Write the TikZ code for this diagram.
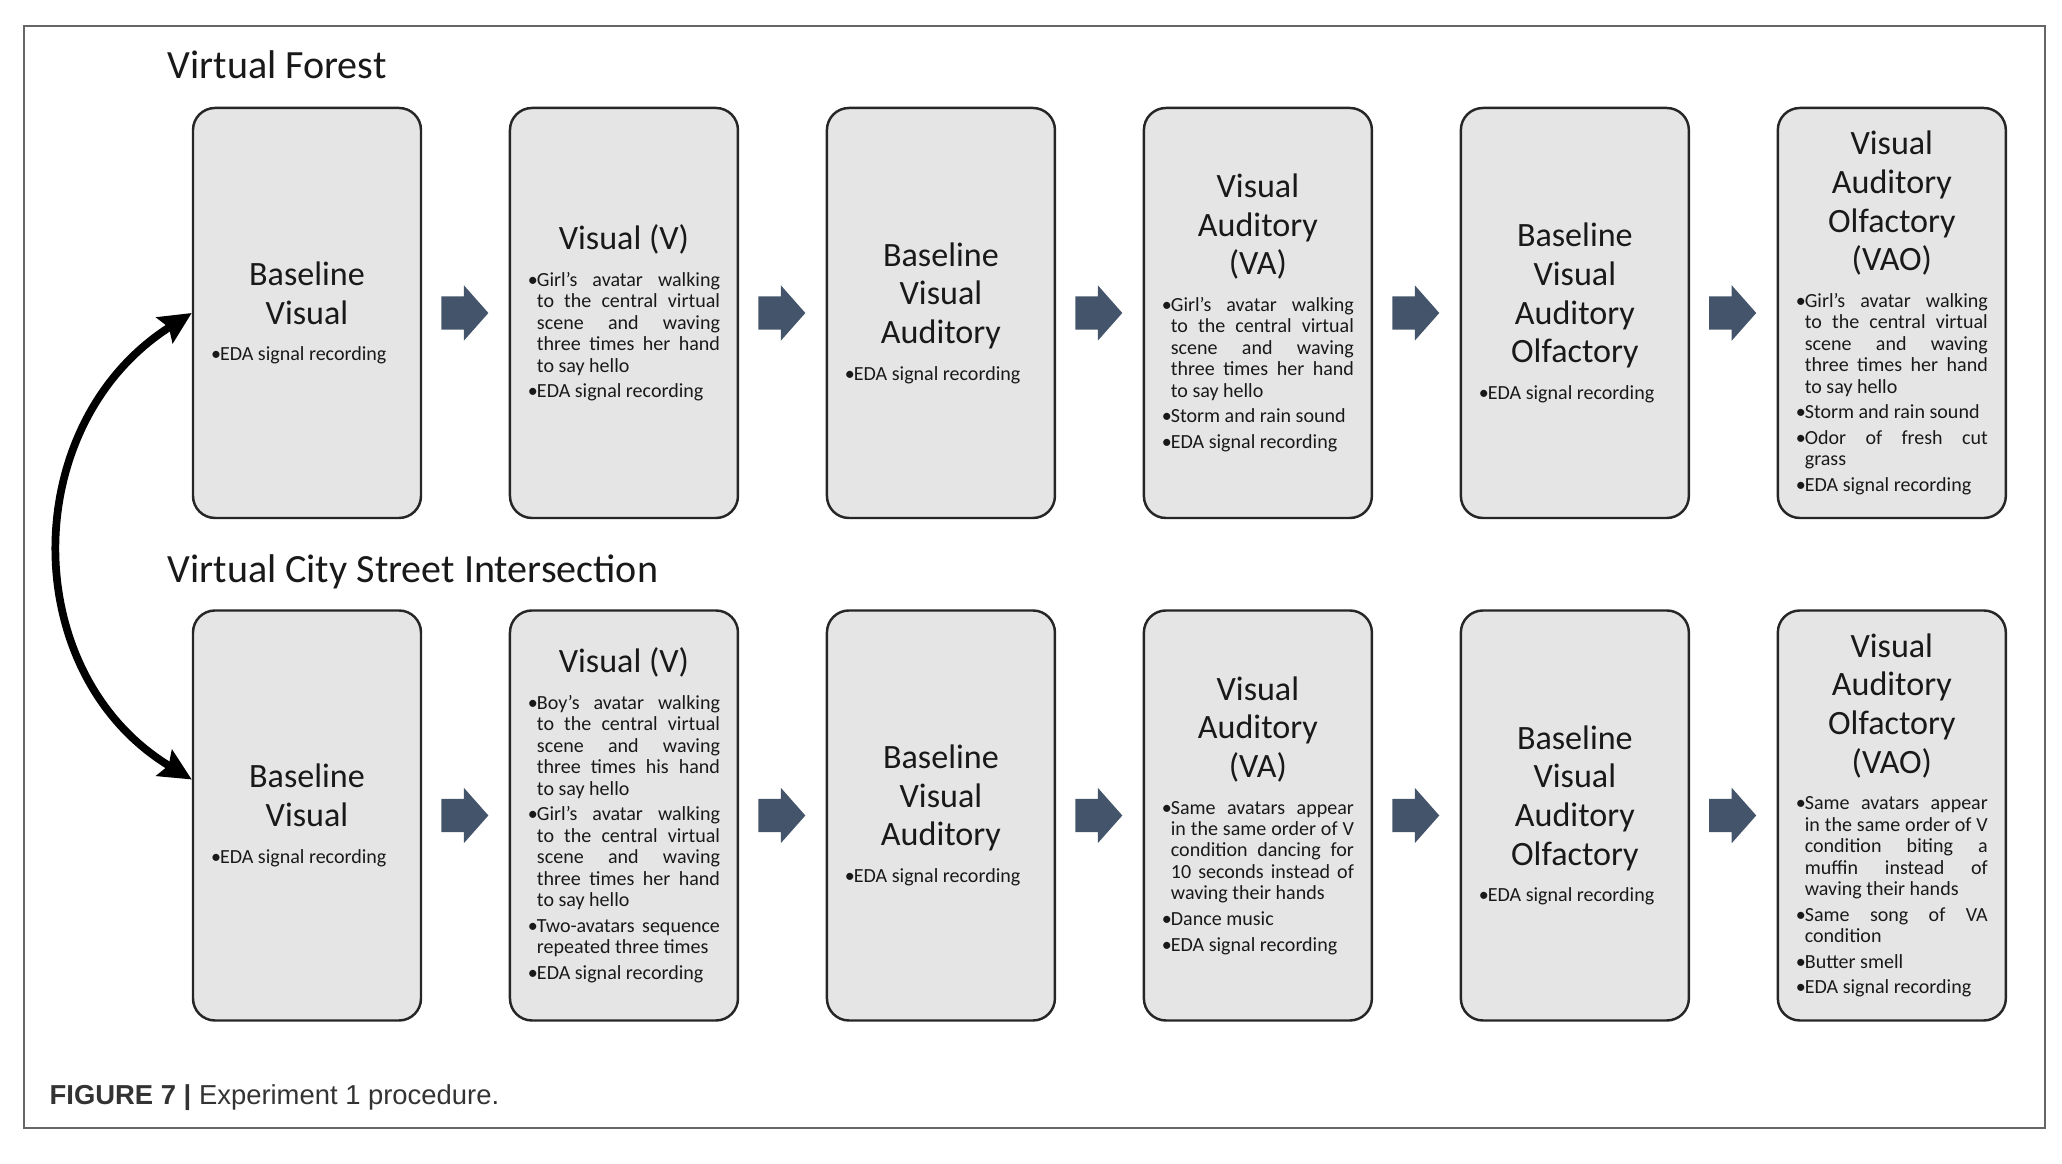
\documentclass[tikz,border=0pt]{standalone}
\usepackage{fontspec}
\setmainfont{Carlito}
\newfontfamily\captionfont{Liberation Sans}
\usetikzlibrary{arrows.meta, positioning, shapes.arrows}
\definecolor{boxGris}{RGB}{229,229,229}
\definecolor{arrowSlate}{RGB}{68,84,106}

\newcommand{\headfont}{\fontsize{9.7}{11}\selectfont}
\newcommand{\itemfont}{\fontsize{5.7}{6.1}\selectfont}
\newcommand{\stagehead}[1]{{\centering\headfont #1\par}\vspace{3.1pt}}
\newcommand{\bul}[1]{\par\vskip1.2pt\hangindent=0.09cm\hangafter=1\noindent\makebox[0.09cm][l]{\textbullet}#1\par}

\begin{document}
\begin{tikzpicture}[
        stage/.style={rectangle, rounded corners=0.22cm, draw=black!85, line width=0.7pt, fill=boxGris, minimum width=2.28cm, minimum height=4.10cm, text width=1.92cm, inner xsep=0.18cm, inner ysep=0pt, align=justify, text=black!90, font=\itemfont},
        fwd/.style={single arrow, fill=arrowSlate, single arrow head extend=0.11cm, single arrow tip angle=97, minimum height=0.47cm, inner xsep=0pt, inner ysep=0.16cm, xshift=-0.08cm},
        twoway/.style={{Stealth[length=0.32cm, width=0.3cm, inset=0.05cm]}-{Stealth[length=0.32cm, width=0.3cm, inset=0.05cm]}, line width=2.2pt},
        title/.style={anchor=base west, inner sep=0pt, font=\fontsize{11.4}{13}\selectfont, text=black!90}]
        \useasboundingbox (0,0) rectangle (20.62,11.64);
        \draw[black!60, line width=0.8pt] (0.24,0.36) rectangle (20.45,11.38);

        % Virtual Forest
        \node[title] (forest) at (1.67,10.85) {Virtual Forest};
        \node[stage] (f1) at (3.07,8.51) {\stagehead{Baseline\\Visual}\bul{EDA signal recording}};
        \node[stage, right=0.865cm of f1] (f2) {\stagehead{Visual (V)}\bul{Girl’s avatar walking\linebreak to the central virtual\linebreak scene and waving\linebreak three times her hand\linebreak to say hello}\bul{EDA signal recording}};
        \node[stage, right=0.865cm of f2] (f3) {\stagehead{Baseline\\Visual\\Auditory}\bul{EDA signal recording}};
        \node[stage, right=0.865cm of f3] (f4) {\stagehead{Visual\\Auditory\\(VA)}\bul{Girl’s avatar walking\linebreak to the central virtual\linebreak scene and waving\linebreak three times her hand\linebreak to say hello}\bul{Storm and rain sound}\bul{EDA signal recording}};
        \node[stage, right=0.865cm of f4] (f5) {\stagehead{Baseline\\Visual\\Auditory\\Olfactory}\bul{EDA signal recording}};
        \node[stage, right=0.865cm of f5] (f6) {\stagehead{Visual\\Auditory\\Olfactory\\(VAO)}\bul{Girl’s avatar walking\linebreak to the central virtual\linebreak scene and waving\linebreak three times her hand\linebreak to say hello}\bul{Storm and rain sound}\bul{Odor of fresh cut\linebreak grass}\bul{EDA signal recording}};

        % Virtual City Street Intersection
        \node[title] (city) at (1.67,5.81) {Virtual City Street Intersection};
        \node[stage] (c1) at (3.07,3.485) {\stagehead{Baseline\\Visual}\bul{EDA signal recording}};
        \node[stage, right=0.865cm of c1] (c2) {\stagehead{Visual (V)}\bul{Boy’s avatar walking\linebreak to the central virtual\linebreak scene and waving\linebreak three times his hand\linebreak to say hello}\bul{Girl’s avatar walking\linebreak to the central virtual\linebreak scene and waving\linebreak three times her hand\linebreak to say hello}\bul{Two-avatars sequence\linebreak repeated three times}\bul{EDA signal recording}};
        \node[stage, right=0.865cm of c2] (c3) {\stagehead{Baseline\\Visual\\Auditory}\bul{EDA signal recording}};
        \node[stage, right=0.865cm of c3] (c4) {\stagehead{Visual\\Auditory\\(VA)}\bul{Same avatars appear\linebreak in the same order of V\linebreak condition dancing for\linebreak 10 seconds instead of\linebreak waving their hands}\bul{Dance music}\bul{EDA signal recording}};
        \node[stage, right=0.865cm of c4] (c5) {\stagehead{Baseline\\Visual\\Auditory\\Olfactory}\bul{EDA signal recording}};
        \node[stage, right=0.865cm of c5] (c6) {\stagehead{Visual\\Auditory\\Olfactory\\(VAO)}\bul{Same avatars appear\linebreak in the same order of V\linebreak condition biting a\linebreak muffin instead of\linebreak waving their hands}\bul{Same song of VA\linebreak condition}\bul{Butter smell}\bul{EDA signal recording}};

        % flow arrows
        \path (f1) -- node[fwd] {} (f2);
        \path (f2) -- node[fwd] {} (f3);
        \path (f3) -- node[fwd] {} (f4);
        \path (f4) -- node[fwd] {} (f5);
        \path (f5) -- node[fwd] {} (f6);
        \path (c1) -- node[fwd] {} (c2);
        \path (c2) -- node[fwd] {} (c3);
        \path (c3) -- node[fwd] {} (c4);
        \path (c4) -- node[fwd] {} (c5);
        \path (c5) -- node[fwd] {} (c6);

        \draw[twoway] (f1.west) .. controls (0.17,7.4) and (0.17,4.9) .. ([yshift=0.36cm]c1.west);

        \node[anchor=base west, inner sep=0pt, font=\captionfont\fontsize{7.8}{10}\selectfont, text=black!80] (caption) at (0.49,0.59) {\textbf{FIGURE 7 |} Experiment 1 procedure.};
    \end{tikzpicture}
\end{document}
